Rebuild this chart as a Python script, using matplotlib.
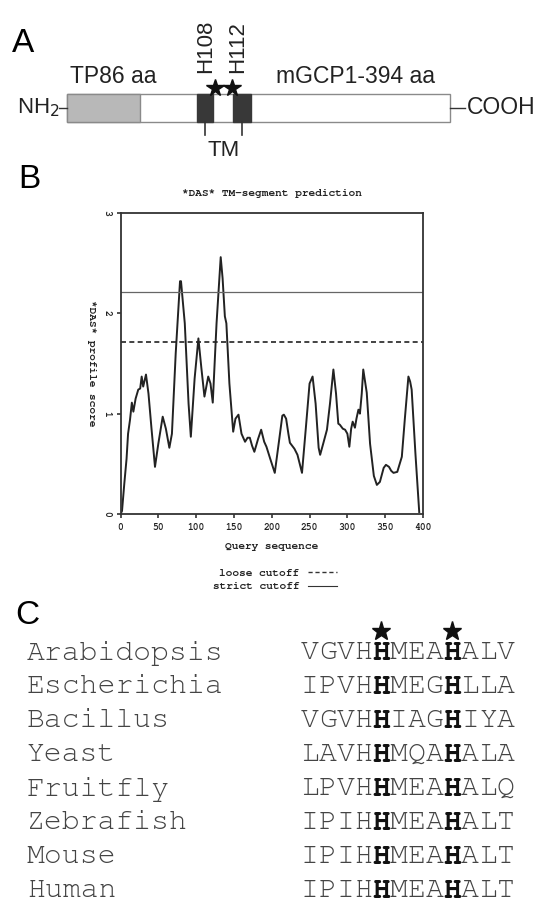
import matplotlib
matplotlib.use('Agg')
import matplotlib.pyplot as plt
from matplotlib.patches import Rectangle
from matplotlib.lines import Line2D

# ---- panel A: domain map (diagram units along the bar)
bar_len = 480
tp_span = (0, 92)
tm_spans = [(163, 183), (208, 230)]
his_names = ['H108', 'H112']
his_pos = [185.5, 207]
his_label_pos = [174, 214]

# ---- panel B: DAS profile
query_pos = [0, 2, 5, 8, 10, 12.6, 15, 17, 20, 23.5, 26, 28, 30, 33.7, 37, 41, 45.6,
             50, 55.8, 60, 64.6, 68, 73, 78.7, 80, 85, 90, 93, 98, 103, 107, 111,
             116, 119, 122, 127, 132.5, 135, 138, 140, 144, 149, 152, 156, 160,
             164.7, 168, 171, 174, 177, 182, 186, 190, 193, 198, 204, 210, 214,
             216, 219, 222, 224, 230, 234, 237, 240, 245, 250, 254, 258, 262, 264,
             268, 273, 277, 281.5, 285, 288, 290, 294, 297, 300, 302.6, 305, 307,
             310, 312, 314.6, 316.6, 319, 321, 325.6, 330, 335, 339, 343, 348, 351,
             355, 358, 361, 366, 372, 376, 380.7, 383, 385, 390, 395]
das_score = [0.0, 0.03, 0.3, 0.55, 0.8, 0.94, 1.11, 1.02, 1.15, 1.24, 1.25, 1.37, 1.27,
             1.39, 1.2, 0.85, 0.47, 0.7, 0.97, 0.85, 0.66, 0.8, 1.6, 2.32, 2.32, 1.9,
             1.1, 0.77, 1.35, 1.75, 1.45, 1.17, 1.37, 1.3, 1.11, 1.9, 2.56, 2.35, 1.97,
             1.9, 1.3, 0.82, 0.95, 0.99, 0.8, 0.72, 0.76, 0.76, 0.68, 0.62, 0.75, 0.84,
             0.72, 0.67, 0.55, 0.41, 0.75, 0.98, 0.99, 0.95, 0.8, 0.71, 0.65, 0.59,
             0.5, 0.41, 0.85, 1.3, 1.37, 1.1, 0.66, 0.59, 0.7, 0.84, 1.1, 1.44, 1.2,
             0.9, 0.89, 0.85, 0.84, 0.8, 0.67, 0.85, 0.92, 0.86, 0.95, 1.04, 1.0, 1.2,
             1.44, 1.21, 0.7, 0.38, 0.29, 0.32, 0.46, 0.49, 0.47, 0.43, 0.41, 0.42,
             0.57, 0.95, 1.37, 1.32, 1.24, 0.6, 0.02]
loose_cutoff = 1.71
strict_cutoff = 2.21
x_ticks = [0, 50, 100, 150, 200, 250, 300, 350, 400]
y_ticks = [0, 1, 2, 3]

# ---- panel C: alignment
species = ['Arabidopsis', 'Escherichia', 'Bacillus', 'Yeast', 'Fruitfly',
           'Zebrafish', 'Mouse', 'Human']
motifs = ['VGVHHMEAHALV', 'IPVHHMEGHLLA', 'VGVHHIAGHIYA', 'LAVHHMQAHALA',
          'LPVHHMEAHALQ', 'IPIHHMEAHALT', 'IPIHHMEAHALT', 'IPIHHMEAHALT']
conserved_idx = [4, 8]

W, H = 544, 905
fig = plt.figure(figsize=(W / 100, H / 100), dpi=100)
sans = 'Liberation Sans'
mono = ['Nimbus Mono PS', 'Courier New', 'FreeMono', 'Liberation Mono']

# panel A axes: x in diagram units, y in pixels
s = 383 / bar_len
axA = fig.add_axes([0, 1 - 165 / H, 1, 165 / H])
axA.set_xlim(-67 / s, (W - 67) / s)
axA.set_ylim(165, 0)
axA.axis('off')
axA.text(-55 / s, 43, 'A', fontsize=24, family=sans, ha='left', va='center')
axA.add_patch(Rectangle((0, 94), bar_len, 28, facecolor='white', edgecolor='#8a8a8a', lw=1))
axA.add_patch(Rectangle((tp_span[0], 94), tp_span[1] - tp_span[0], 28,
                        facecolor='#b8b8b8', edgecolor='#8a8a8a', lw=1))
for a, b in tm_spans:
    axA.add_patch(Rectangle((a, 94), b - a, 28, facecolor='#383838', edgecolor='#383838', lw=1))
    mid = (a + b) / 2
    axA.plot([mid, mid], [122, 135], color='#333', lw=1.2)
axA.text(sum(sum(t) for t in tm_spans) / 4, 150, 'TM', fontsize=16, family=sans,
         ha='center', va='center', color='#222')
axA.plot([-10, 0], [108, 108], color='#333', lw=1)
axA.plot([bar_len, bar_len + 15 / s], [108, 108], color='#333', lw=1)
axA.text(-9, 108, 'NH$_2$', fontsize=16, family=sans, ha='right', va='center', color='#222')
axA.text(bar_len + 17 / s, 108, 'COOH', fontsize=16.5, family=sans, ha='left', va='center', color='#222')
axA.text(4, 83, 'TP86 aa', fontsize=16.5, family=sans, ha='left', va='baseline', color='#222')
axA.text(362, 83, 'mGCP1-394 aa', fontsize=16.5, family=sans, ha='center', va='baseline', color='#222')
axA.plot(his_pos, [88] * len(his_pos), linestyle='none', marker='*', ms=13, color='#111')
for name, xp in zip(his_names, his_label_pos):
    axA.text(xp, 73, name, fontsize=16, family=sans, rotation=90, ha='center',
             va='bottom', color='#222')

# panel B
axB = fig.add_axes([120.5 / W, 1 - 514 / H, 302.5 / W, 301 / H])
axB.plot(query_pos, das_score, color='#222', lw=1.4)
axB.axhline(strict_cutoff, color='#666', lw=0.9)
axB.axhline(loose_cutoff, color='#222', lw=1.2, linestyle=(0, (3, 2)))
axB.set_xlim(0, 400)
axB.set_ylim(0, 3)
axB.set_xticks(x_ticks)
axB.set_yticks(y_ticks)
for sp in axB.spines.values():
    sp.set_color('#333')
    sp.set_linewidth(1.3)
axB.tick_params(direction='out', length=3, width=1.2, color='#333', labelsize=7)
for lab in axB.get_xticklabels() + axB.get_yticklabels():
    lab.set_family(mono)
    lab.set_weight('bold')
    lab.set_color('#222')
for lab in axB.get_yticklabels():
    lab.set_rotation(270)
    lab.set_va('center')
axB.set_title('*DAS* TM-segment prediction', fontsize=8, family=mono, weight='bold',
              color='#222', pad=12)
axB.set_xlabel('Query sequence', fontsize=8, family=mono, weight='bold', color='#222', labelpad=7)
axB.set_ylabel('*DAS* profile score', fontsize=8, family=mono, weight='bold', color='#222',
               rotation=270, labelpad=8, va='center')
fig.text(18 / W, 1 - 180 / H, 'B', fontsize=24, family=sans, ha='left', va='center')
handles = [Line2D([], [], color='#333', lw=1, linestyle=(0, (3, 2))),
           Line2D([], [], color='#333', lw=0.8)]
leg = axB.legend(handles, ['loose cutoff', 'strict cutoff'], markerfirst=False, frameon=False,
                 loc='upper center', bbox_to_anchor=(275 / W, 1 - 558 / H),
                 bbox_transform=fig.transFigure, handlelength=2.6, handletextpad=0.8,
                 labelspacing=0.35, prop={'family': mono, 'weight': 'bold', 'size': 8})
for t in leg.get_texts():
    t.set_color('#222')

# panel C overlay in pixels
axC = fig.add_axes([0, 0, 1, 1], zorder=-1)
axC.set_xlim(0, W)
axC.set_ylim(H, 0)
axC.axis('off')
axC.text(15, 615, 'C', fontsize=24, family=sans, ha='left', va='center')
char_w = 17.8
seq_left = 301
row_y = [653 + 34 * i for i in range(len(species))]
for name, seq, yy in zip(species, motifs, row_y):
    axC.text(27, yy, name, fontsize=21.4, family=mono, ha='left', va='center', color='#444')
    for i, ch in enumerate(seq):
        bold = i in conserved_idx
        axC.text(seq_left + (i + 0.5) * char_w, yy, ch, fontsize=21.4, family=mono,
                 ha='center', va='center', color='#111' if bold else '#444',
                 weight='bold' if bold else 'normal')
axC.plot([seq_left + (i + 0.5) * char_w for i in conserved_idx], [631] * len(conserved_idx),
         linestyle='none', marker='*', ms=14, color='#111')

fig.savefig('out.png', dpi=100)
